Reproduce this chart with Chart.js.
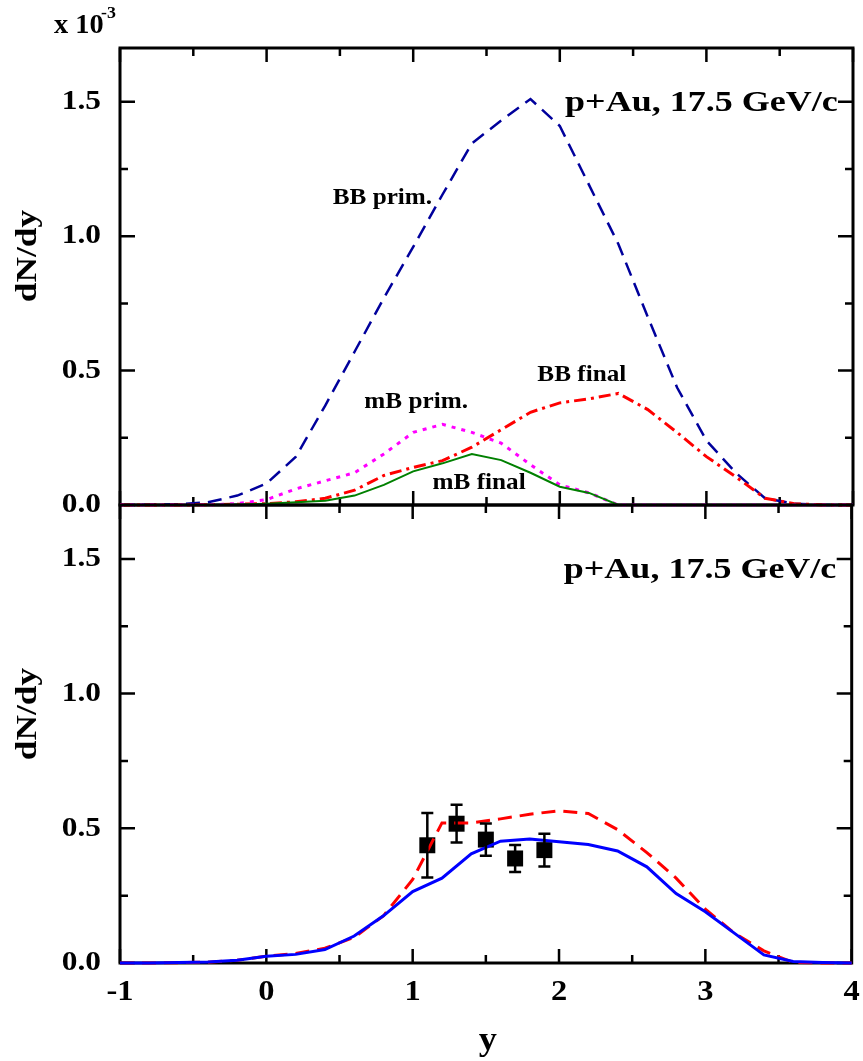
<!DOCTYPE html>
<html>
<head>
<meta charset="utf-8">
<script src="https://cdn.jsdelivr.net/npm/chart.js@4.4.0/dist/chart.umd.min.js"></script>
<style>
  body { margin: 0; background: #fff; }
  #wrap { position: relative; width: 863px; height: 1061px; }
  #wrap canvas { position: absolute; left: 0; top: 0; }
</style>
</head>
<body>
<div id="wrap">
  <canvas id="topChart" width="863" height="1061"></canvas>
  <canvas id="bottomChart" width="863" height="1061"></canvas>
</div>
<script>
// rapidity grid of the model curves
const rapidity = [-1.0, -0.8, -0.6, -0.4, -0.2, 0.0, 0.2, 0.4, 0.6, 0.8, 1.0, 1.2, 1.4,
                  1.6, 1.8, 2.0, 2.2, 2.4, 2.6, 2.8, 3.0, 3.2, 3.4, 3.6, 3.8, 4.0];

// upper panel (x 10^-3)
const bbPrim  = [0, 0.001, 0.003, 0.01, 0.035, 0.08, 0.18, 0.37, 0.57, 0.77, 0.96, 1.155, 1.345,
                 1.43, 1.51, 1.41, 1.19, 0.97, 0.70, 0.437, 0.24, 0.12, 0.025, 0.005, 0, 0];
const bbFinal = [0, 0, 0, 0.001, 0.003, 0.005, 0.012, 0.025, 0.055, 0.11, 0.14, 0.165, 0.215,
                 0.28, 0.345, 0.38, 0.395, 0.415, 0.355, 0.27, 0.18, 0.105, 0.025, 0.005, 0, 0];
const mbPrim  = [0, 0, 0, 0, 0.005, 0.02, 0.06, 0.09, 0.12, 0.19, 0.27, 0.30, 0.27,
                 0.23, 0.15, 0.075, 0.045, 0, 0, 0, 0, 0, 0, 0, 0, 0];
const mbFinal = [0, 0, 0, 0, 0.002, 0.005, 0.01, 0.016, 0.035, 0.075, 0.125, 0.155, 0.19,
                 0.167, 0.12, 0.068, 0.045, 0, 0, 0, 0, 0, 0, 0, 0, 0];

// lower panel
const sumSolid  = [0, 0, 0.002, 0.004, 0.01, 0.025, 0.032, 0.05, 0.10, 0.175, 0.265, 0.315, 0.405,
                   0.452, 0.46, 0.45, 0.44, 0.416, 0.357, 0.258, 0.19, 0.11, 0.03, 0.006, 0.002, 0];
const sumDashed = [0, 0, 0.001, 0.003, 0.01, 0.025, 0.035, 0.055, 0.095, 0.175, 0.31, 0.52, 0.52,
                   0.535, 0.552, 0.565, 0.555, 0.495, 0.41, 0.315, 0.20, 0.11, 0.045, 0.002, 0, 0];

// measured points
const expX   = [1.1, 1.3, 1.5, 1.7, 1.9];
const expY   = [0.437, 0.517, 0.458, 0.388, 0.419];
const expErr = [0.12, 0.07, 0.06, 0.05, 0.061];

// axis ticks
const xMajor = [-1, 0, 1, 2, 3, 4];
const xMinor = [-0.5, 0.5, 1.5, 2.5, 3.5];
const yMajor = [0, 0.5, 1.0, 1.5];
const yMinor = [0.25, 0.75, 1.25];
const yTickLabels = ['0.0', '0.5', '1.0', '1.5'];
const xTickLabels = ['-1', '0', '1', '2', '3', '4'];

const serif = '"Liberation Serif", "DejaVu Serif", serif';

function pts(ys) {
    return rapidity.map((x, i) => ({ x: x, y: ys[i] }));
}

function line(data, color, width, dash) {
    return { type: 'line', data: pts(data), borderColor: color, borderWidth: width,
             borderDash: dash, pointRadius: 0, fill: false, tension: 0, clip: 6 };
}

// the original lettering is a wide bold Times, so stretch the text a bit
function text(ctx, str, x, y, size, stretch, align, baseline, rot) {
    ctx.save();
    ctx.font = 'bold ' + size + 'px ' + serif;
    ctx.textAlign = align;
    ctx.textBaseline = baseline;
    ctx.translate(x, y);
    if (rot) ctx.rotate(rot);
    ctx.scale(stretch, 1);
    ctx.fillText(str, 0, 0);
    ctx.restore();
}

const framePlugin = {
    id: 'frame',
    beforeDatasetsDraw(chart, args, opts) {
        const ctx = chart.ctx, a = chart.chartArea;
        const xs = chart.scales.x, ys = chart.scales.y;
        ctx.save();
        ctx.strokeStyle = '#000';
        ctx.lineCap = 'butt';
        ctx.lineWidth = 3;
        ctx.strokeRect(a.left, a.top, a.right - a.left, a.bottom - a.top);
        ctx.lineWidth = 2.5;
        ctx.beginPath();
        const tick = (vals, len) => {
            vals.forEach(v => {
                const px = xs.getPixelForValue(v);
                ctx.moveTo(px, a.bottom); ctx.lineTo(px, a.bottom - len);
                ctx.moveTo(px, a.top); ctx.lineTo(px, a.top + len);
            });
        };
        tick(xMajor, 14);
        tick(xMinor, 8);
        const ytick = (vals, len) => {
            vals.forEach(v => {
                const py = ys.getPixelForValue(v);
                ctx.moveTo(a.left, py); ctx.lineTo(a.left + len, py);
                ctx.moveTo(a.right, py); ctx.lineTo(a.right - len, py);
            });
        };
        ytick(yMajor, 15);
        ytick(yMinor, 8);
        ctx.stroke();
        ctx.restore();
    },
    afterDraw(chart, args, opts) {
        const ctx = chart.ctx, a = chart.chartArea;
        const xs = chart.scales.x, ys = chart.scales.y;
        ctx.save();
        ctx.fillStyle = '#000';

        // error bars
        if (opts.errors) {
            ctx.strokeStyle = '#000';
            ctx.lineWidth = 2.5;
            ctx.beginPath();
            expX.forEach((x, i) => {
                const px = xs.getPixelForValue(x);
                const hi = ys.getPixelForValue(expY[i] + expErr[i]);
                const lo = ys.getPixelForValue(expY[i] - expErr[i]);
                ctx.moveTo(px, hi); ctx.lineTo(px, lo);
                ctx.moveTo(px - 6, hi); ctx.lineTo(px + 6, hi);
                ctx.moveTo(px - 6, lo); ctx.lineTo(px + 6, lo);
            });
            ctx.stroke();
        }

        // y tick labels
        yMajor.forEach((v, i) => text(ctx, yTickLabels[i], 101, ys.getPixelForValue(v), 28, 1.12, 'right', 'middle'));

        // x tick labels + title
        if (opts.xLabels) {
            xMajor.forEach((v, i) => text(ctx, xTickLabels[i], xs.getPixelForValue(v), 993, 29, 1.12, 'center', 'middle'));
            text(ctx, 'y', (a.left + a.right) / 2 + 2, 1041, 33, 1.1, 'center', 'middle');
        }

        // y axis title
        text(ctx, 'dN/dy', 29, opts.yTitleY, 29, 1.22, 'center', 'middle', -Math.PI / 2);

        // panel title
        text(ctx, 'p+Au, 17.5 GeV/c', xs.getPixelForValue(3.895), ys.getPixelForValue(opts.titleY),
             30, 1.2, 'right', 'alphabetic');

        // curve labels
        (opts.notes || []).forEach(n => {
            text(ctx, n.text, xs.getPixelForValue(n.x), ys.getPixelForValue(n.y), 24, 1.05, 'center', 'alphabetic');
        });

        // exponent
        if (opts.exponent) {
            text(ctx, 'x 10', 54, 33, 27, 1.05, 'left', 'alphabetic');
            text(ctx, '-3', 101, 18, 17, 1.05, 'left', 'alphabetic');
        }
        ctx.restore();
    }
};

function makePanel(id, padTop, padBottom, datasets, frameOpts) {
    return new Chart(document.getElementById(id), {
        type: 'line',
        data: { datasets: datasets },
        options: {
            responsive: false,
            animation: false,
            layout: { padding: { left: 120, right: 10, top: padTop, bottom: padBottom } },
            scales: {
                x: { type: 'linear', min: -1, max: 4, display: false },
                y: { type: 'linear', min: 0, max: 1.7, display: false }
            },
            plugins: { legend: { display: false }, tooltip: { enabled: false }, frame: frameOpts }
        },
        plugins: [framePlugin]
    });
}

makePanel('topChart', 48, 1061 - 505, [
    line(mbFinal, '#008000', 2, []),
    line(mbPrim, '#ff00ff', 3, [4, 6]),
    line(bbFinal, '#ff0000', 3, [12, 5, 3, 5]),
    line(bbPrim, '#00009c', 2.5, [14, 8])
], {
    yTitleY: 256, titleY: 1.466, exponent: true,
    notes: [
        { text: 'BB prim.', x: 0.79, y: 1.12 },
        { text: 'mB prim.', x: 1.02, y: 0.361 },
        { text: 'BB final', x: 2.15, y: 0.461 },
        { text: 'mB final', x: 1.45, y: 0.06 }
    ]
});

makePanel('bottomChart', 505, 1061 - 963, [
    line(sumSolid, '#0000ff', 3, []),
    line(sumDashed, '#ff0000', 3, [14, 8]),
    {
        type: 'scatter',
        data: expX.map((x, i) => ({ x: x, y: expY[i] })),
        pointStyle: 'rect', pointRadius: 11.3,
        backgroundColor: '#000', borderColor: '#000', borderWidth: 0, clip: false
    }
], {
    yTitleY: 714, titleY: 1.43, xLabels: true, errors: true
});
</script>
</body>
</html>
